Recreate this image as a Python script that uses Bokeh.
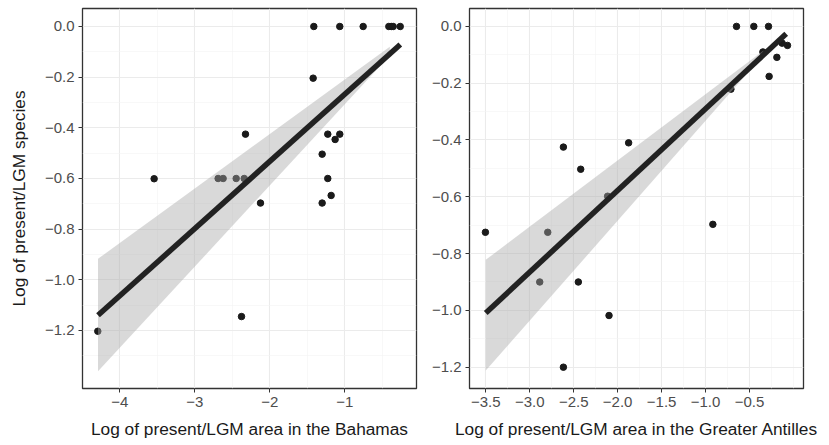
from bokeh.plotting import figure
from bokeh.layouts import row
from bokeh.models import FixedTicker, CustomJSTickFormatter, ColumnDataSource
from bokeh.embed import file_html
from bokeh.resources import INLINE

# ---- Data: Bahamas panel ----
bah_area = [-1.413, -1.067, -0.755, -0.413, -0.381, -0.355, -0.261,
            -1.422, -2.324, -1.227, -1.067, -1.129, -1.302, -3.542,
            -2.689, -2.622, -2.448, -2.341, -1.227, -2.124, -1.302,
            -1.182, -2.377, -4.293]
bah_species = [0.0, 0.0, 0.0, 0.0, 0.0, 0.0, 0.0,
               -0.204, -0.425, -0.425, -0.425, -0.446, -0.504, -0.601,
               -0.600, -0.600, -0.600, -0.600, -0.600, -0.697, -0.697,
               -0.667, -1.145, -1.203]
# fitted line and shaded band (as drawn)
bah_fit_x = [-4.29, -0.26]
bah_fit_y = [-1.14, -0.071]
bah_band_x = [-4.29, -0.40]
bah_band_hi = [-0.917, -0.080]
bah_band_lo = [-1.361, -0.115]

# ---- Data: Greater Antilles panel ----
ga_area = [-0.648, -0.451, -0.284, -0.348, -0.129, -0.068, -0.189,
           -0.277, -0.712, -2.617, -1.875, -2.420, -2.114, -3.504,
           -2.795, -0.917, -2.886, -2.447, -2.098, -2.617]
ga_species = [0.0, 0.0, 0.0, -0.090, -0.059, -0.067, -0.109,
              -0.176, -0.221, -0.425, -0.410, -0.503, -0.598, -0.725,
              -0.725, -0.697, -0.900, -0.900, -1.018, -1.200]
ga_fit_x = [-3.50, -0.083]
ga_fit_y = [-1.009, -0.026]
ga_band_x = [-3.50, -0.34]
ga_band_hi = [-0.822, -0.085]
ga_band_lo = [-1.212, -0.100]

# tick labels
bah_x_ticks = [-4, -3, -2, -1]
bah_y_ticks = [0.0, -0.2, -0.4, -0.6, -0.8, -1.0, -1.2]
ga_x_ticks = [-3.5, -3.0, -2.5, -2.0, -1.5, -1.0, -0.5]
ga_y_ticks = [0.0, -0.2, -0.4, -0.6, -0.8, -1.0, -1.2]

FONT = "Liberation Sans"


def make_panel(x, y, fx, fy, bx, bhi, blo, xr, yr, xt, xminor, yt, yminor, xdec,
               xlabel, ylabel, border_left, border_right):
    p = figure(frame_width=334, frame_height=380, x_range=xr, y_range=yr,
               output_backend="svg", toolbar_location=None,
               min_border_left=border_left, min_border_right=border_right,
               min_border_top=8, min_border_bottom=55)
    p.background_fill_color = "white"
    p.border_fill_color = "white"
    p.outline_line_color = "#333333"
    p.outline_line_width = 1.3

    src = ColumnDataSource(dict(x=x, y=y))
    p.scatter("x", "y", source=src, size=6.5, color="#1a1a1a", line_color="#1a1a1a")

    p.varea(x=bx, y1=blo, y2=bhi, fill_color="#a8a8a8", fill_alpha=0.44)
    p.line(fx, fy, line_color="#222222", line_width=5.5)

    for ax, ticks, minor, dec in ((p.xaxis[0], xt, xminor, xdec), (p.yaxis[0], yt, yminor, 1)):
        ax.ticker = FixedTicker(ticks=ticks, minor_ticks=minor)
        ax.formatter = CustomJSTickFormatter(
            code="var s = Math.abs(tick) < 1e-9 ? (0).toFixed(%d) : tick.toFixed(%d); return s.replace('-', '\\u2212');" % (dec, dec))
        ax.axis_line_color = None
        ax.major_tick_line_color = "#333333"
        ax.major_tick_line_width = 1
        ax.major_tick_out = 4
        ax.major_tick_in = 0
        ax.minor_tick_line_color = None
        ax.major_label_text_font = FONT
        ax.major_label_text_font_size = "15px"
        ax.major_label_text_color = "#4d4d4d"
        ax.axis_label_text_font = FONT
        ax.axis_label_text_font_size = "17.3px"
        ax.axis_label_text_font_style = "normal"
        ax.axis_label_text_color = "#1a1a1a"
    p.xaxis.major_label_standoff = 4
    p.yaxis.major_label_standoff = 4
    p.xaxis.axis_label = xlabel
    p.xaxis.axis_label_standoff = 9
    if ylabel:
        p.yaxis.axis_label = ylabel
        p.yaxis.axis_label_standoff = 13

    for g in (p.xgrid[0], p.ygrid[0]):
        g.grid_line_color = "#ebebeb"
        g.grid_line_width = 1.1
        g.minor_grid_line_color = "#f3f3f3"
        g.minor_grid_line_width = 0.6
    return p


left = make_panel(bah_area, bah_species, bah_fit_x, bah_fit_y,
                  bah_band_x, bah_band_hi, bah_band_lo,
                  (-4.497, -0.044), (-1.429, 0.071),
                  bah_x_ticks, [-3.5, -2.5, -1.5, -0.5],
                  bah_y_ticks, [-0.1, -0.3, -0.5, -0.7, -0.9, -1.1, -1.3], 0,
                  "Log of present/LGM area in the Bahamas", "Log of present/LGM species",
                  82, 4)
right = make_panel(ga_area, ga_species, ga_fit_x, ga_fit_y,
                   ga_band_x, ga_band_hi, ga_band_lo,
                   (-3.685, 0.114), (-1.275, 0.063),
                   ga_x_ticks, [-3.25, -2.75, -2.25, -1.75, -1.25, -0.75, -0.25, 0.0],
                   ga_y_ticks, [-0.1, -0.3, -0.5, -0.7, -0.9, -1.1], 1,
                   "Log of present/LGM area in the Greater Antilles", None,
                   49, 20)

layout = row(left, right)
open("out.html", "w").write(file_html(layout, INLINE))
